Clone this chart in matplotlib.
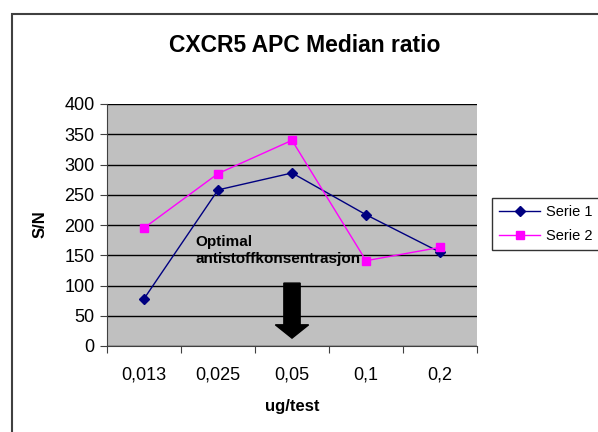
import matplotlib.pyplot as plt
from matplotlib.patches import FancyArrow, Rectangle

plt.rcParams['font.family'] = ['Liberation Sans', 'DejaVu Sans']

categories = ['0,013', '0,025', '0,05', '0,1', '0,2']
serie1 = [78, 258, 286, 217, 155]
serie2 = [195, 285, 340, 141, 163]
y_ticks = [0, 50, 100, 150, 200, 250, 300, 350, 400]

fig = plt.figure(figsize=(5.98, 4.32), dpi=100)
# outer chart frame (only left and top edges visible)
fig.patches.append(Rectangle((12 / 598, -0.1), 1.2, (432 - 14) / 432 + 0.1,
                             transform=fig.transFigure, fill=False,
                             edgecolor='#404040', linewidth=1.5))

ax = fig.add_axes([107 / 598, 86 / 432, 370 / 598, 242 / 432])
ax.set_facecolor('#c0c0c0')

x = range(len(categories))
ax.plot(x, serie1, color='#000080', marker='D', markersize=5, linewidth=1,
        label='Serie 1')
ax.plot(x, serie2, color='#ff00ff', marker='s', markersize=6, linewidth=1,
        label='Serie 2')

ax.set_xlim(-0.5, len(categories) - 0.5)
ax.set_ylim(0, 400)
ax.set_yticks(y_ticks)
ax.set_yticklabels([str(v) for v in y_ticks], fontsize=13)
ax.set_xticks([i + 0.5 for i in range(-1, len(categories))])
ax.set_xticklabels([])
ax.set_xticks(list(x), minor=True)
ax.set_xticklabels(categories, minor=True, fontsize=13)
ax.tick_params(axis='x', which='minor', length=0, pad=15)
ax.tick_params(axis='x', which='major', length=5, direction='out', color='#404040')
ax.tick_params(axis='y', length=5, direction='out', color='#404040', pad=4)
ax.grid(axis='y', color='black', linewidth=1)
ax.set_axisbelow(True)
for side in ['top', 'right']:
    ax.spines[side].set_visible(False)
ax.spines['left'].set_color('#404040')
ax.spines['bottom'].set_color('#404040')

# annotation arrow
ax.add_patch(FancyArrow(2, 104, 0, -91, width=0.22, head_width=0.45,
                        head_length=22, length_includes_head=True,
                        color='black', zorder=5))
ax.text(0.69, 158, 'Optimal\nantistoffkonsentrasjon', fontsize=11,
        fontweight='bold', va='center', ha='left', linespacing=1.2)

fig.text(305 / 598, 1 - 45 / 432, 'CXCR5 APC Median ratio', fontsize=16.5,
         fontweight='bold', ha='center', va='center')
fig.text(40 / 598, 1 - 224 / 432, 'S/N', fontsize=12, fontweight='bold',
         rotation=90, ha='center', va='center')
fig.text(292 / 598, 1 - 406 / 432, 'ug/test', fontsize=12, fontweight='bold',
         ha='center', va='center')

leg = fig.legend(loc='center left', bbox_to_anchor=(492 / 598, 1 - 224 / 432),
                 fontsize=10.5, frameon=True, fancybox=False, handlelength=2.8,
                 handletextpad=0.4, borderpad=0.5, borderaxespad=0,
                 labelspacing=0.7)
leg.get_frame().set_edgecolor('black')
leg.get_frame().set_linewidth(1)

fig.savefig('out.png', dpi=100)
